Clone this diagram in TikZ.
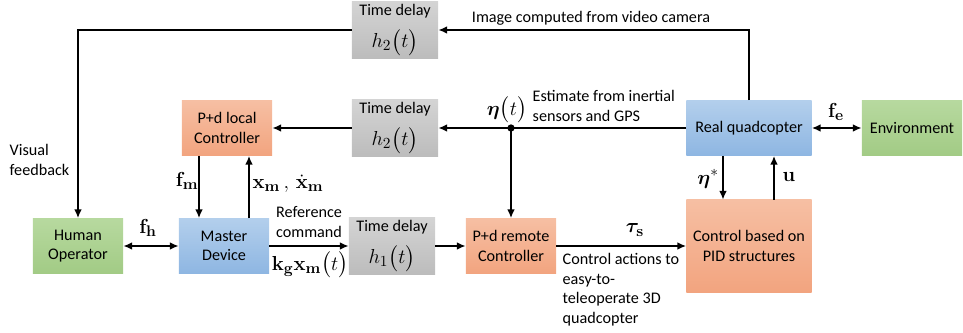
\documentclass[tikz,border=0pt]{standalone}
\usepackage{amsmath,amssymb,bm}
\usepackage[no-math]{fontspec}
\setmainfont{Carlito}
\usetikzlibrary{arrows.meta,positioning}

\definecolor{gryA}{HTML}{D4D4D4}
\definecolor{gryB}{HTML}{BCBCBC}
\definecolor{orgA}{HTML}{F6BFA3}
\definecolor{orgB}{HTML}{F2A47F}
\definecolor{bluA}{HTML}{B3CFEC}
\definecolor{bluB}{HTML}{8EB6E2}
\definecolor{grnA}{HTML}{B7D99F}
\definecolor{grnB}{HTML}{A2CB85}

\begin{document}
\begin{tikzpicture}[
    x=0.025cm, y=-0.025cm,
    >={Latex[length=2.2mm,width=1.9mm]},
    every node/.style={font=\fontsize{11.5}{13.8}\selectfont},
    blk/.style={align=center, inner sep=2pt, minimum width=2.25cm, minimum height=1.375cm},
    delay/.style={blk, top color=gryA, bottom color=gryB, minimum width=2.15cm},
    ctrl/.style={blk, top color=orgA, bottom color=orgB},
    device/.style={blk, top color=bluA, bottom color=bluB},
    ext/.style={blk, top color=grnA, bottom color=grnB},
    sig/.style={->, line width=1.3pt},
    lbl/.style={inner sep=1pt},
    mlbl/.style={inner sep=1pt, font=\fontsize{15.5}{17}\selectfont}
]
\useasboundingbox (0,0) rectangle (963,333);

% blocks
\node[ext] (human) at (78,246) {Human\\Operator};
\node[device] (master) at (224,246) {Master\\Device};
\node[delay] (dlyone) at (392,246) {Time delay\\[7pt]{\fontsize{15.5}{17}\selectfont$h_1\bigl(t\bigr)$}};
\node[ctrl] (remote) at (511,246) {P+d remote\\Controller};
\node[ctrl, minimum width=3.125cm, minimum height=2.3cm] (pid) at (749,246) {Control based on\\PID structures};
\node[device, minimum width=3.125cm] (quad) at (749,128) {Real quadcopter};
\node[ext, minimum width=2.5cm] (env) at (912,128) {Environment};
\node[ctrl] (local) at (227,128) {P+d local\\Controller};
\node[delay] (dlymid) at (395,128) {Time delay\\[7pt]{\fontsize{15.5}{17}\selectfont$h_2\bigl(t\bigr)$}};
\node[delay] (dlytop) at (395,30) {Time delay\\[7pt]{\fontsize{15.5}{17}\selectfont$h_2\bigl(t\bigr)$}};

% feedback paths
\draw[sig] (quad.north) |- (dlytop.east);
\draw[sig] (dlytop.west) -| (human.north);
\draw[sig] (quad.west) -- (dlymid.east);
\draw[sig] (dlymid.west) -- (local.east);
\coordinate (tap) at (remote.north |- quad.west);
\fill (tap) circle (2.6pt);
\draw[sig] (tap) -- (remote.north);

% local loop
\coordinate (fmA) at ([xshift=-0.7cm]local.south);
\draw[sig] (fmA) -- (fmA |- master.north);
\coordinate (xmA) at ([xshift=0.625cm]master.north);
\draw[sig] (xmA) -- (xmA |- local.south);

% forward path
\draw[sig, <->] (human.east) -- (master.west);
\draw[sig] (master.east) -- (dlyone.west);
\draw[sig] (dlyone.east) -- (remote.west);
\draw[sig] (remote.east) -- (pid.west);
\coordinate (etaA) at ([xshift=-0.65cm]quad.south);
\draw[sig] (etaA) -- (etaA |- pid.north);
\coordinate (uA) at ([xshift=0.625cm]pid.north);
\draw[sig] (uA) -- (uA |- quad.south);
\draw[sig, <->] (quad.east) -- (env.west);

% labels
\node[lbl] (imgtxt) at (591,18) {Image computed from video camera};
\node[lbl, align=left, anchor=west] (esttxt) at (531,106) {Estimate from inertial\\sensors and GPS};
\node[mlbl] (etat) at (507,110) {$\boldsymbol{\eta}\bigl(t\bigr)$};
\node[lbl, align=left, anchor=west] (vistxt) at (8,160) {Visual\\feedback};
\node[mlbl] (fmtxt) at (187,181) {$\mathbf{f}_{\mathbf{m}}$};
\node[mlbl] (xmtxt) at (288,184) {$\mathbf{x}_{\mathbf{m}}\,,\,\dot{\mathbf{x}}_{\mathbf{m}}$};
\node[mlbl] (fhtxt) at (148,228) {$\mathbf{f}_{\mathbf{h}}$};
\node[lbl, align=center] (reftxt) at (309,222) {Reference\\command};
\node[mlbl] (kgtxt) at (310,265) {$\mathbf{k}_{\mathbf{g}}\mathbf{x}_{\mathbf{m}}\bigl(t\bigr)$};
\node[mlbl] (tautxt) at (635,230) {$\boldsymbol{\tau}_{\mathbf{s}}$};
\node[lbl, align=left, anchor=north west] (acttxt) at (561,252) {Control actions to\\easy-to-\\teleoperate 3D\\quadcopter};
\node[mlbl] (etastxt) at (708,179) {$\boldsymbol{\eta}^{*}$};
\node[mlbl] (utxt) at (789,177) {$\mathbf{u}$};
\node[mlbl] (fetxt) at (836,112) {$\mathbf{f}_{\mathbf{e}}$};

\end{tikzpicture}
\end{document}
